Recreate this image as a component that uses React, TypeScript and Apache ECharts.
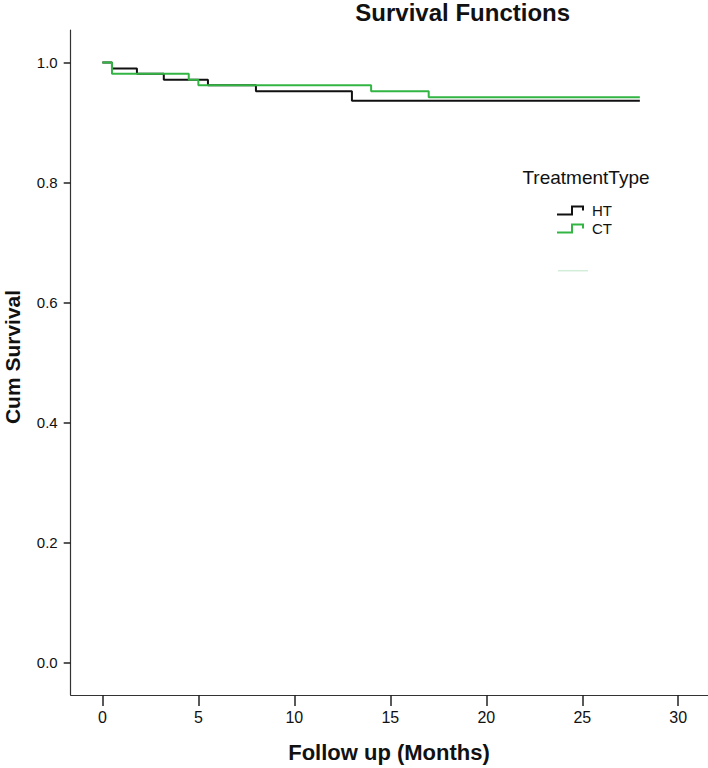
import React, { useEffect, useRef } from "react";
import * as echarts from "echarts";

const htTimes = [0, 0.5, 1.8, 3.2, 5.5, 8, 13, 28];
const htSurv = [1.0, 0.99, 0.981, 0.971, 0.962, 0.952, 0.936, 0.936];
const ctTimes = [0, 0.5, 4.5, 5, 14, 17, 28];
const ctSurv = [1.0, 0.981, 0.971, 0.962, 0.952, 0.942, 0.942];
const xTicks = [0, 5, 10, 15, 20, 25, 30];
const yTicks = [0, 0.2, 0.4, 0.6, 0.8, 1.0];
const seriesNames = ["HT", "CT"];

const FONT = "'Liberation Sans', Arial, sans-serif";
const STEP_ICON =
  "path://M0,8 L14,8 L14,0 L27,0 L27,5 L25,5 L25,2 L16,2 L16,10 L0,10 Z";

export default function App() {
  const ref = useRef<HTMLDivElement>(null);
  useEffect(() => {
    if (!ref.current) return;
    const chart = echarts.init(ref.current, null, { renderer: "svg" });
    const ht = htTimes.map((t, i) => [t, htSurv[i]]);
    const ct = ctTimes.map((t, i) => [t, ctSurv[i]]);
    chart.setOption({
      animation: false,
      backgroundColor: "#ffffff",
      textStyle: { fontFamily: FONT },
      grid: { left: 70.7, right: 0, top: 30, bottom: 73, containLabel: false },
      xAxis: {
        type: "value",
        min: -1.65,
        max: 31.55,
        axisLine: { onZero: false, lineStyle: { color: "#333", width: 1.2 } },
        axisTick: {
          customValues: xTicks,
          length: 11,
          lineStyle: { color: "#222", width: 1.5 },
        },
        axisLabel: {
          customValues: xTicks,
          margin: 14,
          fontSize: 16,
          color: "#111",
          fontFamily: FONT,
        },
        splitLine: { show: false },
      },
      yAxis: {
        type: "value",
        min: -0.054,
        max: 1.054,
        axisLine: { onZero: false, lineStyle: { color: "#333", width: 1.2 } },
        axisTick: {
          customValues: yTicks,
          length: 7,
          lineStyle: { color: "#222", width: 1.5 },
        },
        axisLabel: {
          customValues: yTicks,
          margin: 13,
          fontSize: 15,
          color: "#111",
          fontFamily: FONT,
          formatter: (v: number) => v.toFixed(1),
        },
        splitLine: { show: false },
      },
      legend: {
        orient: "vertical",
        left: 552,
        top: 198,
        itemWidth: 27,
        itemHeight: 10,
        itemGap: 3,
        icon: STEP_ICON,
        textStyle: { fontSize: 15, color: "#111", fontFamily: FONT, padding: [0, 0, 0, 3] },
        data: [
          { name: seriesNames[0], itemStyle: { color: "#111", borderWidth: 0 } },
          { name: seriesNames[1], itemStyle: { color: "#33b544", borderWidth: 0 } },
        ],
      },
      series: [
        {
          name: seriesNames[0],
          type: "line",
          step: "end",
          data: ht,
          showSymbol: false,
          color: "#111",
          lineStyle: { color: "#111", width: 2 },
        },
        {
          name: seriesNames[1],
          type: "line",
          step: "end",
          data: ct,
          showSymbol: false,
          color: "#33b544",
          lineStyle: { color: "#33b544", width: 2 },
        },
      ],
      graphic: [
        {
          type: "text",
          x: 462.7,
          y: 12,
          style: {
            text: "Survival Functions",
            font: `bold 24px ${FONT}`,
            fill: "#111",
            align: "center",
            verticalAlign: "middle",
          },
        },
        {
          type: "text",
          x: 389,
          y: 752,
          style: {
            text: "Follow up (Months)",
            font: `bold 22px ${FONT}`,
            fill: "#111",
            align: "center",
            verticalAlign: "middle",
          },
        },
        {
          type: "text",
          x: 12,
          y: 357,
          rotation: Math.PI / 2,
          style: {
            text: "Cum Survival",
            font: `bold 21px ${FONT}`,
            fill: "#111",
            align: "center",
            verticalAlign: "middle",
          },
        },
        {
          type: "text",
          x: 586,
          y: 177,
          style: {
            text: "TreatmentType",
            font: `19px ${FONT}`,
            fill: "#111",
            align: "center",
            verticalAlign: "middle",
          },
        },
        {
          type: "line",
          shape: { x1: 558, y1: 270.7, x2: 588, y2: 270.7 },
          style: { stroke: "#d2eed9", lineWidth: 1.5 },
        },
      ],
    });
    return () => chart.dispose();
  }, []);
  return (
    <div
      ref={ref}
      style={{ position: "fixed", left: 0, top: 0, width: 708, height: 768 }}
    />
  );
}
